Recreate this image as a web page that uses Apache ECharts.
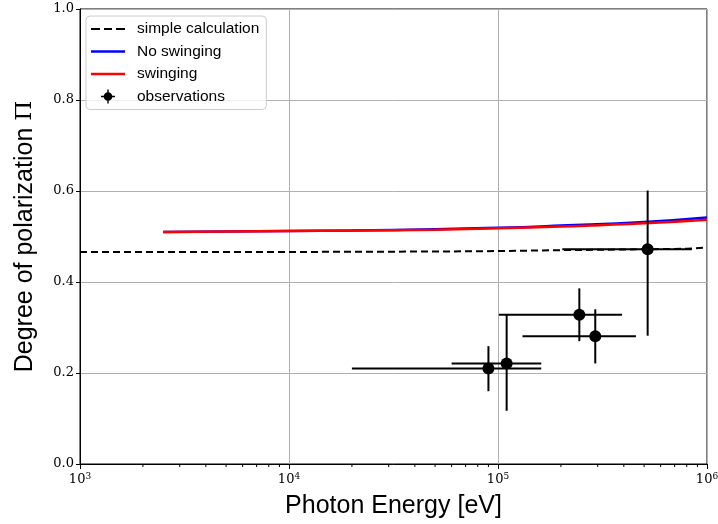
<!DOCTYPE html>
<html><head><meta charset="utf-8">
<script src="https://cdn.jsdelivr.net/npm/echarts@6/dist/echarts.min.js"></script>
<style>html,body{margin:0;padding:0;background:#fff}#c{width:718px;height:524px}</style>
</head><body><div id="c"></div>
<script>
// ---- data ----
var simpleX = [1000, 10000, 50000, 100000, 200000, 500000, 800000, 1000000];
var simpleY = [0.466, 0.466, 0.467, 0.468, 0.470, 0.472, 0.473, 0.476];
var modelX  = [2500, 5000, 10000, 20000, 50000, 100000, 200000, 500000, 1000000];
var noSwingY = [0.510, 0.511, 0.512, 0.513, 0.516, 0.519, 0.524, 0.532, 0.542];
var swingY   = [0.510, 0.511, 0.512, 0.513, 0.515, 0.518, 0.522, 0.529, 0.537];
var obsX    = [90000, 110000, 245000, 292000, 520000];
var obsY    = [0.210, 0.221, 0.328, 0.281, 0.472];
var obsXLow = [20000, 60000, 101000, 131000, 203000];
var obsXHigh= [161000, 161000, 392000, 457000, 846000];
var obsYLow = [0.160, 0.117, 0.270, 0.221, 0.282];
var obsYHigh= [0.259, 0.328, 0.386, 0.340, 0.601];
var minorTickVals = [];
[1000, 10000, 100000].forEach(function(d){ for (var k=2;k<=9;k++) minorTickVals.push(d*k); });

var obsData = obsX.map(function(x,i){ return [x, obsY[i], obsXLow[i], obsXHigh[i], obsYLow[i], obsYHigh[i]]; });

var chart = echarts.init(document.getElementById('c'));
var serif = '"DejaVu Serif", "Liberation Serif", serif';
var sans = '"Liberation Sans", Arial, sans-serif';

var dashIcon = 'path://M0,0h9v2h-9z M13,0h8v2h-8z M25,0h9v2h-9z';
var lineIcon = 'path://M0,0h34v2.4h-34z';
var obsIcon = 'path://M7.2,0h1.6v3.2h-1.6z M7.2,12.8h1.6v3.2h-1.6z M0,7.2h3.2v1.6h-3.2z M12.8,7.2h3.2v1.6h-3.2z M13,8A5,5 0 1,1 3,8A5,5 0 1,1 13,8z';

chart.setOption({
  animation: false,
  grid: {left: 80, right: 11, top: 9, bottom: 60, outerBoundsMode: 'none', containLabel: false,
         show: true, borderColor: '#000', borderWidth: 1, backgroundColor: 'transparent'},
  legend: {
    orient: 'vertical', left: 86, top: 16,
    itemWidth: 34, itemHeight: 14, itemGap: 6.5,
    padding: [5, 7, 5, 5],
    backgroundColor: 'rgba(255,255,255,0.8)', borderColor: '#cccccc', borderWidth: 1, borderRadius: 4,
    textStyle: {fontFamily: sans, fontSize: 15.5, color: '#000', padding: [0, 0, 0, 7]},
    data: [
      {name: 'simple calculation', icon: dashIcon},
      {name: 'No swinging', icon: lineIcon},
      {name: 'swinging', icon: lineIcon},
      {name: 'observations', icon: obsIcon}
    ]
  },
  xAxis: {
    type: 'log', logBase: 10, min: 1000, max: 1000000,
    name: 'Photon Energy [eV]', nameLocation: 'middle', nameGap: 30,
    nameTextStyle: {fontFamily: sans, fontSize: 25, color: '#000'},
    axisLine: {lineStyle: {color: '#000', width: 1}},
    axisTick: {show: true, length: 5, lineStyle: {color: '#000', width: 1}},
    axisLabel: {
      margin: 8, color: '#000',
      formatter: function(v){ return '{b|10}{s|' + Math.round(Math.log10(v)) + '}'; },
      rich: {b: {fontFamily: serif, fontSize: 13, color: '#000'}, s: {fontFamily: serif, fontSize: 9, color: '#000', verticalAlign: 'top', padding: [0,0,6,0]}}
    },
    splitLine: {show: true, lineStyle: {color: '#b0b0b0', width: 1}}
  },
  yAxis: {
    type: 'value', min: 0, max: 1, interval: 0.2,
    name: '{a|Degree of polarization }{p|Π}', nameLocation: 'middle', nameGap: 42,
    nameTextStyle: {rich: {a: {fontFamily: sans, fontSize: 25, color: '#000'}, p: {fontFamily: serif, fontSize: 23, color: '#000'}}},
    axisLine: {show: true, lineStyle: {color: '#000', width: 1}},
    axisTick: {show: true, length: 4, lineStyle: {color: '#000'}},
    axisLabel: {fontFamily: serif, fontSize: 13, color: '#000', margin: 6, formatter: function(v){ return v.toFixed(1); }},
    splitLine: {show: true, lineStyle: {color: '#b0b0b0', width: 1}}
  },
  series: [
    {name: 'simple calculation', type: 'line', symbol: 'none', z: 3,
     data: simpleX.map(function(x,i){return [x, simpleY[i]];}),
     lineStyle: {color: '#000', width: 2, type: [7, 4]}, itemStyle: {color: '#000'}},
    {name: 'No swinging', type: 'line', symbol: 'none', smooth: true, z: 3,
     data: modelX.map(function(x,i){return [x, noSwingY[i]];}),
     lineStyle: {color: '#0000ff', width: 2.5}, itemStyle: {color: '#0000ff'}},
    {name: 'swinging', type: 'line', symbol: 'none', smooth: true, z: 4,
     data: modelX.map(function(x,i){return [x, swingY[i]];}),
     lineStyle: {color: '#ff0000', width: 2.5}, itemStyle: {color: '#ff0000'}},
    {name: 'observations', type: 'custom', z: 5, itemStyle: {color: '#000'},
     data: obsData,
     renderItem: function(params, api){
       var c = api.coord([api.value(0), api.value(1)]);
       var xl = api.coord([api.value(2), api.value(1)]);
       var xh = api.coord([api.value(3), api.value(1)]);
       var yl = api.coord([api.value(0), api.value(4)]);
       var yh = api.coord([api.value(0), api.value(5)]);
       var st = {stroke: '#000', lineWidth: 2};
       return {type: 'group', children: [
         {type: 'line', shape: {x1: xl[0], y1: c[1], x2: xh[0], y2: c[1]}, style: st},
         {type: 'line', shape: {x1: c[0], y1: yl[1], x2: c[0], y2: yh[1]}, style: st},
         {type: 'circle', shape: {cx: c[0], cy: c[1], r: 6}, style: {fill: '#000'}}
       ]};
     }},
    {type: 'custom', silent: true, z: 2, clip: false,
     data: minorTickVals.map(function(v){return [v, 0];}),
     renderItem: function(params, api){
       var p = api.coord([api.value(0), 0]);
       return {type: 'line', shape: {x1: p[0], y1: p[1], x2: p[0], y2: p[1] + 3}, style: {stroke: '#000', lineWidth: 1}};
     }}
  ]
});
</script></body></html>
